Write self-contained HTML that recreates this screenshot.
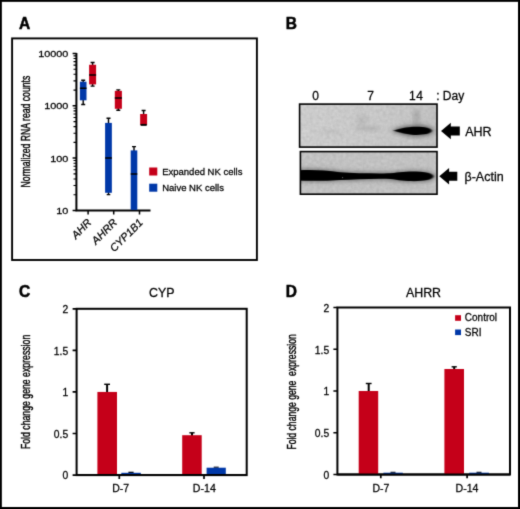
<!DOCTYPE html>
<html><head><meta charset="utf-8">
<style>
html,body{margin:0;padding:0;background:#fff;}
svg{display:block;}
text{font-family:"Liberation Sans",sans-serif;fill:#000;stroke:#000;stroke-width:0.26px;}
</style></head><body>
<svg width="520" height="509" viewBox="0 0 520 509">
<defs>
<filter id="b1" x="-20%" y="-100%" width="140%" height="300%"><feGaussianBlur stdDeviation="1.6 1.1"/></filter>
<filter id="b2" x="-20%" y="-100%" width="140%" height="300%"><feGaussianBlur stdDeviation="2.5 2"/></filter>
<filter id="b3" x="-20%" y="-100%" width="140%" height="300%"><feGaussianBlur stdDeviation="0.9 0.7"/></filter>
<filter id="soft" x="0" y="0" width="520" height="509" filterUnits="userSpaceOnUse" color-interpolation-filters="sRGB"><feConvolveMatrix order="3" kernelMatrix="0.02 0.09 0.02 0.09 0.56 0.09 0.02 0.09 0.02" divisor="1" edgeMode="duplicate" preserveAlpha="false"/></filter>
<filter id="noise" x="0" y="0" width="100%" height="100%">
<feTurbulence type="fractalNoise" baseFrequency="0.3" numOctaves="2" seed="3" result="n"/>
<feColorMatrix in="n" type="matrix" values="0 0 0 0 0  0 0 0 0 0  0 0 0 0 0  0.07 0.07 0.07 0 -0.07"/>
</filter>
<linearGradient id="g1" x1="0" y1="0" x2="1" y2="0"><stop offset="0" stop-color="#d3d3d3"/><stop offset="0.6" stop-color="#cecece"/><stop offset="1" stop-color="#c6c6c6"/></linearGradient>
<clipPath id="c1"><rect x="299.6" y="104.1" width="137.4" height="43"/></clipPath>
<clipPath id="c2"><rect x="300.4" y="151.6" width="136.6" height="42.6"/></clipPath>
</defs>
<rect x="0" y="0" width="520" height="509" fill="#fff"/>
<g filter="url(#soft)">
<!-- outer border -->
<rect x="0.85" y="0.85" width="518.15" height="507.15" fill="none" stroke="#000" stroke-width="2"/>
<rect x="518" y="0" width="2" height="509" fill="#000"/>
<rect x="0" y="507" width="520" height="2" fill="#000"/>

<!-- ================= Panel A ================= -->
<g id="pA">
<rect x="12.1" y="38.4" width="244.8" height="221.6" fill="none" stroke="#000" stroke-width="1.9"/>
<text transform="translate(19.1,28.8) scale(1,1.04)" font-size="15.5" font-weight="bold" style="stroke-width:0.5px">A</text>
<!-- axes -->
<path d="M76.4,52.9 V210.5 H150.5" fill="none" stroke="#000" stroke-width="2"/>
<!-- major ticks -->
<path d="M72.6,53.5H76.6 M72.6,105.8H76.6 M72.6,158.1H76.6 M72.6,210.5H76.6" stroke="#000" stroke-width="1.5"/>
<!-- minor ticks -->
<path d="M73.5,90.08H76.6 M73.5,80.86H76.6 M73.5,74.32H76.6 M73.5,69.25H76.6 M73.5,65.11H76.6 M73.5,61.61H76.6 M73.5,58.57H76.6 M73.5,55.89H76.6 M73.5,142.41H76.6 M73.5,133.19H76.6 M73.5,126.65H76.6 M73.5,121.58H76.6 M73.5,117.44H76.6 M73.5,113.94H76.6 M73.5,110.90H76.6 M73.5,108.22H76.6 M73.5,194.75H76.6 M73.5,185.53H76.6 M73.5,178.99H76.6 M73.5,173.92H76.6 M73.5,169.78H76.6 M73.5,166.28H76.6 M73.5,163.24H76.6 M73.5,160.56H76.6" stroke="#000" stroke-width="1.1"/>
<path d="M88.1,210.5V214.5 M113.7,210.5V214.5 M139.5,210.5V214.5" stroke="#000" stroke-width="1.5"/>
<text transform="translate(68.4,57) scale(1.11,1)" font-size="9.8" text-anchor="end">10000</text>
<text transform="translate(68.4,109.3) scale(1.11,1)" font-size="9.8" text-anchor="end">1000</text>
<text transform="translate(68.4,161.6) scale(1.11,1)" font-size="9.8" text-anchor="end">100</text>
<text transform="translate(68.4,214) scale(1.11,1)" font-size="9.8" text-anchor="end">10</text>
<text transform="translate(29.9,187.4) rotate(-90) scale(0.693,1)" font-size="12.5" style="stroke-width:0.42px">Normalized RNA read counts</text>
<!-- boxes -->
<g stroke="#000" stroke-width="1.4">
<path d="M83.2,80.2V104.5 M81.2,80.2H85.2 M81.2,104.5H85.2"/>
<path d="M92.6,62.5V86.1 M90.6,62.5H94.6 M90.6,86.1H94.6"/>
<path d="M108.5,118.2V194.6 M106.5,118.2H110.5 M106.7,194.6H110.3"/>
<path d="M118.3,89.9V110.3 M116.3,89.9H120.3 M116.3,110.3H120.3"/>
<path d="M134,146.6V200 M132,146.6H136"/>
<path d="M143.6,110.5V125 M141.6,110.5H145.6"/>
</g>
<rect x="79.9" y="81.7" width="6.6" height="18.6" fill="#0038a8"/>
<rect x="89.1" y="64.75" width="7" height="19.65" fill="#c50019"/>
<rect x="105.1" y="122.9" width="6.75" height="69.9" fill="#0038a8"/>
<rect x="114.8" y="90.85" width="7.1" height="17.95" fill="#c50019"/>
<rect x="130.7" y="150.4" width="6.6" height="59.5" fill="#0038a8"/>
<rect x="140.15" y="114" width="6.95" height="11" fill="#c50019"/>
<g stroke="#000" stroke-width="1.5">
<path d="M79.9,88.3H86.5 M89.1,75H96.1 M105.1,158.1H111.85 M114.8,97.9H121.9 M130.7,174H137.3"/>
<path d="M140.6,124.9H146.7" stroke-width="1.9"/>
</g>
<!-- x labels -->
<text transform="translate(92.1,223.3) rotate(-45)" font-size="10.8" font-style="italic" text-anchor="end">AHR</text>
<text transform="translate(117.7,223.3) rotate(-45)" font-size="10.8" font-style="italic" text-anchor="end">AHRR</text>
<text transform="translate(143.5,223.3) rotate(-45)" font-size="10.8" font-style="italic" text-anchor="end">CYP1B1</text>
<!-- legend -->
<rect x="149.2" y="167.5" width="8.1" height="8" fill="#c50019"/>
<rect x="149.2" y="183.7" width="8.1" height="8" fill="#0038a8"/>
<text x="162.2" y="175.2" font-size="9.5">Expanded NK cells</text>
<text x="162.2" y="191.3" font-size="9.5">Naive NK cells</text>
</g>

<!-- ================= Panel B ================= -->
<g id="pB">
<text transform="translate(285.7,28.8) scale(1,1.04)" font-size="15.5" font-weight="bold" style="stroke-width:0.5px">B</text>
<text x="315.6" y="99.6" font-size="12" text-anchor="middle">0</text>
<text x="370.5" y="99.6" font-size="12" text-anchor="middle">7</text>
<text x="416.3" y="99.6" font-size="12" text-anchor="middle" letter-spacing="0.5">14</text>
<text x="436.2" y="99.6" font-size="12">: Day</text>
<!-- blot 1 -->
<rect x="299.6" y="104.1" width="137.4" height="43" fill="url(#g1)"/>
<g clip-path="url(#c1)">
<rect x="299" y="103" width="140" height="45" filter="url(#noise)" fill="#000"/>
<ellipse cx="416.5" cy="117" rx="3" ry="8" fill="#777" opacity="0.4" filter="url(#b2)"/>
<ellipse cx="368" cy="128.5" rx="14" ry="1.6" fill="#666" opacity="0.32" filter="url(#b2)"/>
<ellipse cx="362" cy="120" rx="6" ry="5" fill="#888" opacity="0.22" filter="url(#b2)"/>
<ellipse cx="330" cy="132" rx="12" ry="1.5" fill="#777" opacity="0.2" filter="url(#b2)"/>
<path d="M391,130.5 C398,128 405,125.5 416,125.3 C425,125.2 432.5,127 433.5,130.8 C433,134.6 425,136.3 415,136.2 C405,136 398,133 391,130.5 Z" fill="#222" opacity="0.6" filter="url(#b2)"/>
<path d="M393.5,130.5 C399,128.8 406,126.8 416,126.7 C424,126.6 431,127.8 431.8,130.8 C431.2,133.8 424,135 415,134.9 C406,134.7 399,132.2 393.5,130.5 Z" fill="#000" filter="url(#b3)"/>
</g>
<rect x="299.6" y="104.1" width="137.4" height="43" fill="none" stroke="#000" stroke-width="1.6"/>
<!-- blot 2 -->
<rect x="300.4" y="151.6" width="136.6" height="42.6" fill="#c8c8c8"/>
<g clip-path="url(#c2)">
<rect x="300" y="150" width="140" height="46" filter="url(#noise)" fill="#000"/>
<path d="M296,169.5 C310,168.5 325,169 340,171 C352,172.3 365,172 380,172.3 C392,172.8 398,171 410,170.5 C420,170.2 434,171 435.5,176.3 C434.5,182 420,182.8 408,182.2 C398,181.8 392,179.8 380,179.9 C365,180 352,180.8 340,181 C325,182 310,182 296,181.5 Z" fill="#2a2a2a" opacity="0.5" filter="url(#b2)"/>
<path d="M296,170.5 C310,169.6 325,170.1 340,172.3 C352,173.4 365,173.2 380,173.4 C392,173.9 398,172 410,171.6 C420,171.4 432.5,172.3 433.5,176.3 C432.5,180.7 420,181.5 408,181 C398,180.6 393,178.4 380,178.8 C365,179 352,179.7 340,180 C325,181 310,181 296,180.5 Z" fill="#000" filter="url(#b3)"/>
<circle cx="342.6" cy="177.6" r="0.6" fill="#666"/>
</g>
<rect x="300.4" y="151.6" width="136.6" height="42.6" fill="none" stroke="#000" stroke-width="1.6"/>
<!-- arrows -->
<path d="M441,131 L450.8,122.7 V126.5 H459.8 V135.5 H450.8 V139.3 Z" fill="#000"/>
<path d="M439.3,176.3 L449.1,168 V171.8 H457.3 V180.8 H449.1 V184.6 Z" fill="#000"/>
<text x="465.2" y="135.5" font-size="12.5">AHR</text>
<text x="464.5" y="181" font-size="12.5">β-Actin</text>
</g>

<!-- ================= Panel C ================= -->
<g id="pC">
<text transform="translate(18.9,296.9) scale(1,1.04)" font-size="15.5" font-weight="bold" style="stroke-width:0.5px">C</text>
<text x="161.7" y="297.3" font-size="12.4" text-anchor="middle">CYP</text>
<rect x="76.6" y="308.8" width="170.1" height="166.3" fill="none" stroke="#000" stroke-width="2"/>
<path d="M72.6,308.8H76.6 M72.6,350.4H76.6 M72.6,391.95H76.6 M72.6,433.5H76.6 M72.6,475.1H76.6 M119.3,475.1V478.9 M204,475.1V478.9" stroke="#000" stroke-width="1.7"/>
<text x="68.2" y="313.0" font-size="10.3" text-anchor="end">2</text>
<text x="68.2" y="354.6" font-size="10.3" text-anchor="end">1.5</text>
<text x="68.2" y="396.1" font-size="10.3" text-anchor="end">1</text>
<text x="68.2" y="437.7" font-size="10.3" text-anchor="end">0.5</text>
<text x="68.2" y="479.2" font-size="10.3" text-anchor="end">0</text>
<text transform="translate(29.9,449.1) rotate(-90) scale(0.698,1)" font-size="12.5" style="stroke-width:0.42px">Fold change gene expression</text>
<g stroke="#000" stroke-width="1.4">
<path d="M107.1,384.3V392.5" stroke-width="2"/><path d="M104.2,384.3H110"/>
<path d="M192,432.8V436" stroke-width="2"/><path d="M189.4,432.8H194.6"/>
<path d="M128.4,472.4H133.6"/>
<path d="M213.7,467.2H218.7" stroke-width="1.1"/>
</g>
<rect x="97.4" y="391.95" width="19.6" height="83" fill="#c50019"/>
<rect x="121.3" y="472.8" width="19.5" height="2.3" fill="#0038a8"/>
<rect x="182.2" y="435.2" width="19.5" height="39.9" fill="#c50019"/>
<rect x="206.6" y="467.7" width="19.2" height="7.4" fill="#0038a8"/>
<path d="M76.6,475.1H246.7" stroke="#000" stroke-width="2"/>
<text x="120.7" y="491.7" font-size="10.5" text-anchor="middle">D-7</text>
<text x="204.3" y="491.7" font-size="10.6" text-anchor="middle">D-14</text>
</g>

<!-- ================= Panel D ================= -->
<g id="pD">
<text transform="translate(285.7,296.6) scale(1,1.04)" font-size="15.5" font-weight="bold" style="stroke-width:0.5px">D</text>
<text x="423.5" y="297.3" font-size="12.4" text-anchor="middle">AHRR</text>
<rect x="337.4" y="307.5" width="172.6" height="167" fill="none" stroke="#000" stroke-width="2"/>
<path d="M333.4,307.5H337.4 M333.4,349.25H337.4 M333.4,391H337.4 M333.4,432.75H337.4 M333.4,474.5H337.4 M380.8,474.5V478.3 M467.1,474.5V478.3" stroke="#000" stroke-width="1.7"/>
<text x="329.2" y="311.7" font-size="10.3" text-anchor="end">2</text>
<text x="329.2" y="353.5" font-size="10.3" text-anchor="end">1.5</text>
<text x="329.2" y="395.2" font-size="10.3" text-anchor="end">1</text>
<text x="329.2" y="436.9" font-size="10.3" text-anchor="end">0.5</text>
<text x="329.2" y="478.6" font-size="10.3" text-anchor="end">0</text>
<text transform="translate(296.4,449.6) rotate(-90) scale(0.69,1)" font-size="12.5" xml:space="preserve" style="stroke-width:0.42px">Fold change gene  expression</text>
<g stroke="#000" stroke-width="1.4">
<path d="M368.7,383.5V391.5" stroke-width="2"/><path d="M365.8,383.5H371.6"/>
<path d="M454.2,366.8V369.5" stroke-width="2"/><path d="M451.6,366.8H456.8"/>
<path d="M390.5,472.3H395.5" stroke-width="1.1"/>
<path d="M476.5,472.3H481.5" stroke-width="1.1"/>
</g>
<rect x="358.7" y="391" width="19.5" height="83.5" fill="#c50019"/>
<rect x="383.4" y="472.7" width="19.4" height="1.8" fill="#0038a8"/>
<rect x="444.4" y="369" width="19.6" height="105.5" fill="#c50019"/>
<rect x="469.2" y="472.7" width="19.7" height="1.8" fill="#0038a8"/>
<path d="M337.4,474.5H510" stroke="#000" stroke-width="2"/>
<text x="381" y="491.7" font-size="10.5" text-anchor="middle">D-7</text>
<text x="467" y="491.7" font-size="10.6" text-anchor="middle">D-14</text>
<rect x="455.1" y="315.2" width="5.9" height="5.6" fill="#c50019"/>
<rect x="455.1" y="329.5" width="5.9" height="5.6" fill="#0038a8"/>
<text x="464.8" y="321.2" font-size="10">Control</text>
<text x="464.8" y="335.7" font-size="10">SRI</text>
</g>
</g>
</svg>
</body></html>
